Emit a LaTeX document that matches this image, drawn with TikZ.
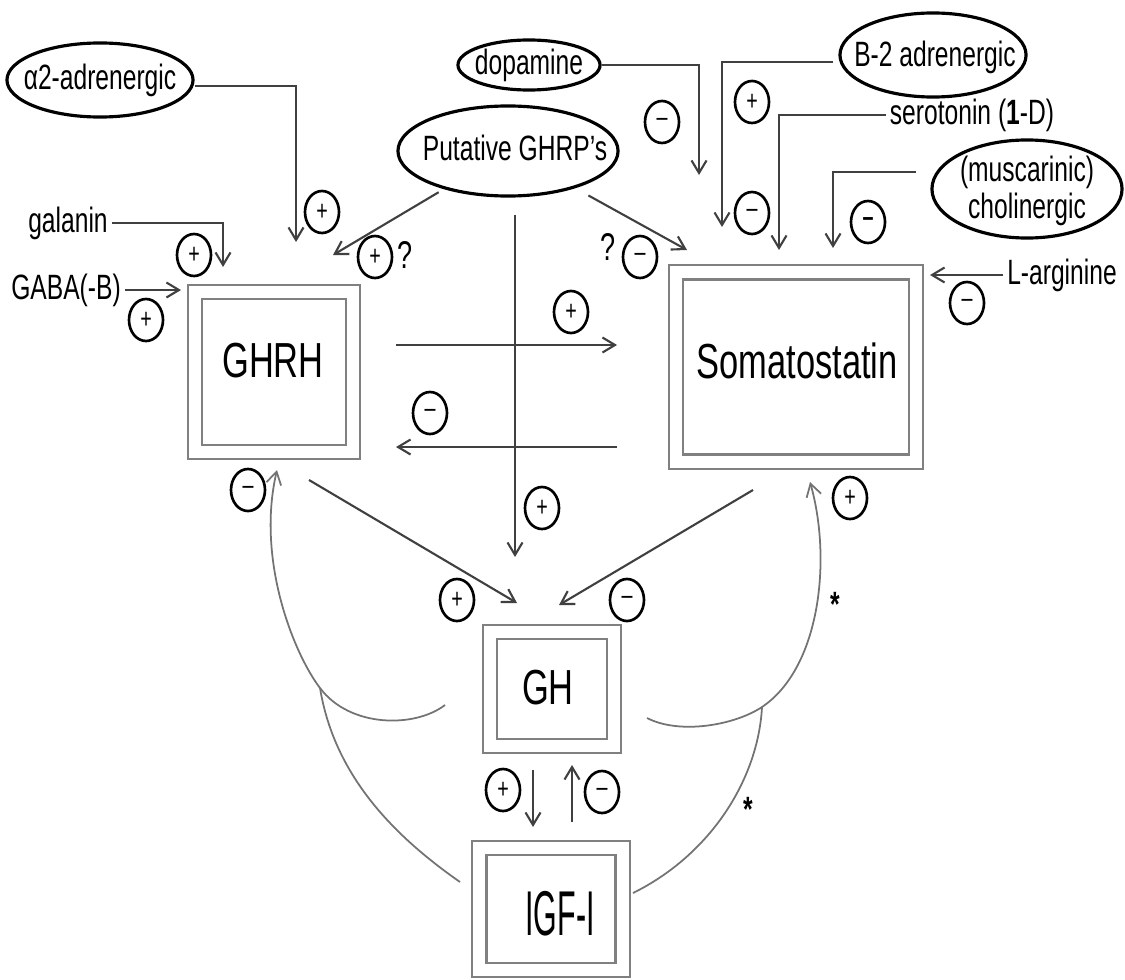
\documentclass[tikz,border=0pt]{standalone}
\usepackage{fontspec}
\setmainfont[FakeStretch=0.7]{Liberation Sans}
\newfontfamily\tallfont[FakeStretch=0.48]{Liberation Sans}
\usetikzlibrary{shapes.geometric,arrows.meta}

\begin{document}
\begin{tikzpicture}[x=0.01cm,y=-0.01cm,
	agent/.style={draw,ellipse,line width=0.9pt,inner sep=0pt},
	lbl/.style={inner sep=1pt,font=\fontsize{10}{10}\selectfont,align=center},
	sign/.style={draw,ellipse,line width=0.75pt,minimum width=0.34cm,minimum height=0.42cm,inner sep=0pt,font=\fontsize{8}{8}\selectfont},
	organ/.style={draw=black!50,double,double distance=0.12cm,line width=0.6pt,inner sep=0pt},
	big/.style={inner sep=0pt,font=\fontsize{14}{15}\selectfont},
	link/.style={draw=black!75,line width=0.6pt,-{Straight Barb[length=1.25mm,width=1.5mm]}},
	loop/.style={draw=black!55,line width=0.5pt}]
	\useasboundingbox (0,0) rectangle (1125,979);

	\node[agent,minimum width=1.86cm,minimum height=0.74cm] (a2) at (100,80) {};
	\node[lbl] (a2t) at (a2) {α2-adrenergic};
	\node[agent,minimum width=1.42cm,minimum height=0.50cm] (dop) at (529,65) {};
	\node[lbl] (dopt) at (dop) {dopamine};
	\node[agent,minimum width=1.86cm,minimum height=0.84cm] (b2) at (933,55) {};
	\node[lbl] (b2t) at (935,57) {B-2 adrenergic};
	\node[agent,minimum width=2.20cm,minimum height=0.90cm] (put) at (508,151) {};
	\node[lbl] (putt) at (515,148) {Putative GHRP's};
	\node[agent,minimum width=1.90cm,minimum height=0.98cm] (musc) at (1027,189) {};
	\node[lbl,font=\fontsize{10}{6.2}\selectfont] (musct) at (1027,191) {(muscarinic)\\cholinergic};
	\node[lbl] (gal) at (68,223) {galanin};
	\node[lbl] (gaba) at (66,290) {GABA(-B)};
	\node[lbl] (sero) at (972,115) {serotonin (\textbf{1}-D)};
	\node[lbl] (larg) at (1062,275) {L-arginine};

	\node[organ,minimum width=1.575cm,minimum height=1.60cm] (ghrh) at (274,372) {};
	\node[big] (ghrht) at (273,361) {GHRH};
	\node[organ,minimum width=2.40cm,minimum height=1.89cm] (som) at (796,367) {};
	\node[big] (somt) at (797,361) {Somatostatin};
	\node[organ,minimum width=1.24cm,minimum height=1.145cm] (gh) at (552,689) {};
	\node[big] (ght) at (548,688) {GH};
	\node[organ,minimum width=1.43cm,minimum height=1.225cm] (igf) at (551,909) {};
	\node[inner sep=0pt,font=\tallfont\fontsize{18}{18}\selectfont] (igft) at (560,914) {IGF-I};

	\coordinate (a2in) at (296,242);
	\coordinate (galin) at (223,267);
	\coordinate (gabain) at (181,290);
	\coordinate (putg) at (333,255);
	\coordinate (puts) at (687,250);
	\coordinate (vbot) at (515,557);
	\coordinate (dopin) at (699,175);
	\coordinate (b2in) at (722,227);
	\coordinate (seroin) at (779,250);
	\coordinate (muscin) at (833,248);
	\coordinate (largin) at (930,275);
	\coordinate (hs1) at (396,345);
	\coordinate (hs2) at (617,345);
	\coordinate (sh1) at (617,447);
	\coordinate (sh2) at (396,447);
	\coordinate (hg1) at (309,480);
	\coordinate (hg2) at (517,603);
	\coordinate (sg1) at (753,490);
	\coordinate (sg2) at (559,605);
	\coordinate (gi1) at (533,770);
	\coordinate (gi2) at (533,827);
	\coordinate (ig1) at (572,822);
	\coordinate (ig2) at (572,765);
	\coordinate (ghl) at (445,705);
	\coordinate (ghr) at (647,718);
	\coordinate (igfl) at (460,882);
	\coordinate (igfr) at (633,893);
	\coordinate (ghrhb) at (277,470);
	\coordinate (somb) at (810,482);
	\coordinate (jl) at (320,688);
	\coordinate (jr) at (762,707);

	\draw[link] ([yshift=-0.06cm]a2.east) -| (a2in);
	\draw[link] (gal) -| (galin);
	\draw[link] (gaba) -- (gabain);
	\draw[link,shorten <=0.06cm] (put) -- (putg);
	\draw[link,shorten <=0.15cm] (put) -- (puts);
	\draw[link,shorten <=0.17cm] (put.south -| vbot) -- (vbot);
	\draw[link] (dop) -| (dopin);
	\draw[link,shorten <=0.05cm] ([yshift=-0.07cm]b2.west) -| (b2in);
	\draw[link] (sero) -| (seroin);
	\draw[link,shorten <=0.14cm] ([yshift=0.17cm]musc.west) -| (muscin);
	\draw[link] (larg) -- (largin);
	\draw[link] (hs1) -- (hs2);
	\draw[link] (sh1) -- (sh2);
	\draw[link] (hg1) -- (hg2);
	\draw[link] (sg1) -- (sg2);
	\draw[link] (gi1) -- (gi2);
	\draw[link] (ig1) -- (ig2);

	\draw[loop,-{Straight Barb[length=1.25mm,width=1.5mm]}] (ghl) .. controls (415,728) and (350,728) .. (jl) .. controls (294,654) and (256,560) .. (ghrhb);
	\draw[loop] (igfl) .. controls (400,840) and (335,780) .. (jl);
	\draw[loop,-{Straight Barb[length=1.25mm,width=1.5mm]}] (ghr) .. controls (680,735) and (735,725) .. (jr) .. controls (820,668) and (832,560) .. (somb);
	\draw[loop] (igfr) .. controls (710,855) and (758,780) .. (jr);

	\node[sign] (s1) at (322,212) {+};
	\node[sign] (s2) at (194,255) {+};
	\node[sign] (s3) at (146,320) {+};
	\node[sign] (s4) at (375,257) {+};
	\node[sign] (s5) at (662,122) {--};
	\node[sign] (s6) at (752,102) {+};
	\node[sign] (s7) at (752,213) {--};
	\node[sign,font=\bfseries\fontsize{8}{8}\selectfont] (s8) at (868,222) {--};
	\node[sign] (s9) at (640,257) {--};
	\node[sign] (s10) at (967,303) {--};
	\node[sign] (s11) at (571,312) {+};
	\node[sign] (s12) at (430,413) {--};
	\node[sign] (s13) at (542,508) {+};
	\node[sign] (s14) at (248,490) {--};
	\node[sign] (s15) at (850,498) {+};
	\node[sign] (s16) at (457,600) {+};
	\node[sign] (s17) at (627,600) {--};
	\node[sign] (s18) at (503,790) {+};
	\node[sign] (s19) at (602,792) {--};

	\node[lbl,font=\fontsize{11}{11}\selectfont] (q1) at (405,255) {?};
	\node[lbl,font=\fontsize{11}{11}\selectfont] (q2) at (608,247) {?};
	\node[lbl,font=\bfseries\fontsize{10}{10}\selectfont] (st1) at (835,604) {*};
	\node[lbl,font=\bfseries\fontsize{10}{10}\selectfont] (st2) at (748,809) {*};
\end{tikzpicture}
\end{document}
